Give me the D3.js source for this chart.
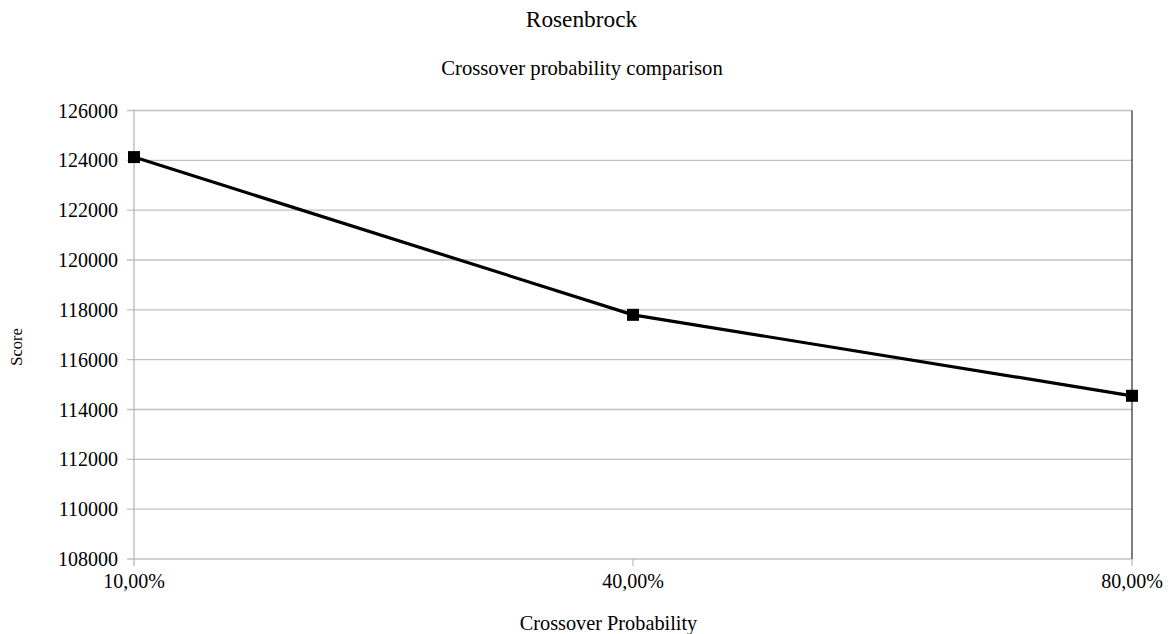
<!DOCTYPE html>
<html><head><meta charset="utf-8">
<script src="https://cdn.jsdelivr.net/npm/d3@7"></script>
<style>body{margin:0;background:#fff}svg{display:block}text{font-family:"Liberation Serif","Times New Roman",serif;fill:#000}</style>
</head><body><svg id="c" width="1172" height="634"></svg>
<script>
const categories = ["10,00%", "40,00%", "80,00%"];
const scores = [124130, 117800, 114550];
const yTicks = [108000, 110000, 112000, 114000, 116000, 118000, 120000, 122000, 124000, 126000];
const title = "Rosenbrock";
const subtitle = "Crossover probability comparison";
const xTitle = "Crossover Probability";
const yTitle = "Score";

const svg = d3.select("#c");
const m = {left:134, right:1132, top:110.5, bottom:559};
const x = d3.scalePoint().domain(categories).range([m.left, m.right]).padding(0);
const y = d3.scaleLinear().domain([108000, 126000]).range([m.bottom, m.top]);

// gridlines
svg.append("g").selectAll("line").data(yTicks).join("line")
  .attr("x1", m.left - 7).attr("x2", m.right)
  .attr("y1", d => y(d)).attr("y2", d => y(d))
  .attr("stroke", "#c0c0c0").attr("stroke-width", 1.3);
// left axis line
svg.append("line").attr("x1", m.left).attr("x2", m.left).attr("y1", m.top).attr("y2", m.bottom + 7)
  .attr("stroke", "#b8b8b8").attr("stroke-width", 1.3);
// right axis line
svg.append("line").attr("x1", m.right).attr("x2", m.right).attr("y1", m.top).attr("y2", m.bottom)
  .attr("stroke", "#555").attr("stroke-width", 1.5);
svg.append("line").attr("x1", m.right).attr("x2", m.right).attr("y1", m.bottom).attr("y2", m.bottom + 7)
  .attr("stroke", "#c0c0c0").attr("stroke-width", 1.3);
svg.append("line").attr("x1", x(categories[1])).attr("x2", x(categories[1])).attr("y1", m.bottom).attr("y2", m.bottom + 7)
  .attr("stroke", "#c0c0c0").attr("stroke-width", 1.3);

// y tick labels
svg.append("g").selectAll("text").data(yTicks).join("text")
  .attr("x", 118).attr("y", d => y(d) + 7)
  .attr("text-anchor", "end").attr("font-size", 20).text(d => d);
// x labels
svg.append("g").selectAll("text").data(categories).join("text")
  .attr("x", d => x(d)).attr("y", 588)
  .attr("text-anchor", "middle").attr("font-size", 20).text(d => d);

// line
svg.append("path").datum(scores)
  .attr("d", d3.line().x((d,i) => x(categories[i])).y(d => y(d)))
  .attr("fill", "none").attr("stroke", "#000").attr("stroke-width", 3.2);
svg.append("g").selectAll("rect").data(scores).join("rect")
  .attr("x", (d,i) => x(categories[i]) - 6).attr("y", d => y(d) - 6)
  .attr("width", 12).attr("height", 12).attr("fill", "#000");

// titles
svg.append("text").attr("x", 581.5).attr("y", 27).attr("text-anchor", "middle").attr("font-size", 23.3).text(title);
svg.append("text").attr("x", 582).attr("y", 75).attr("text-anchor", "middle").attr("font-size", 20.7).text(subtitle);
svg.append("text").attr("x", 608.5).attr("y", 630).attr("text-anchor", "middle").attr("font-size", 20.3).text(xTitle);
svg.append("text").attr("transform", "translate(22,347) rotate(-90)").attr("text-anchor", "middle").attr("font-size", 16.5).text(yTitle);
</script></body></html>
